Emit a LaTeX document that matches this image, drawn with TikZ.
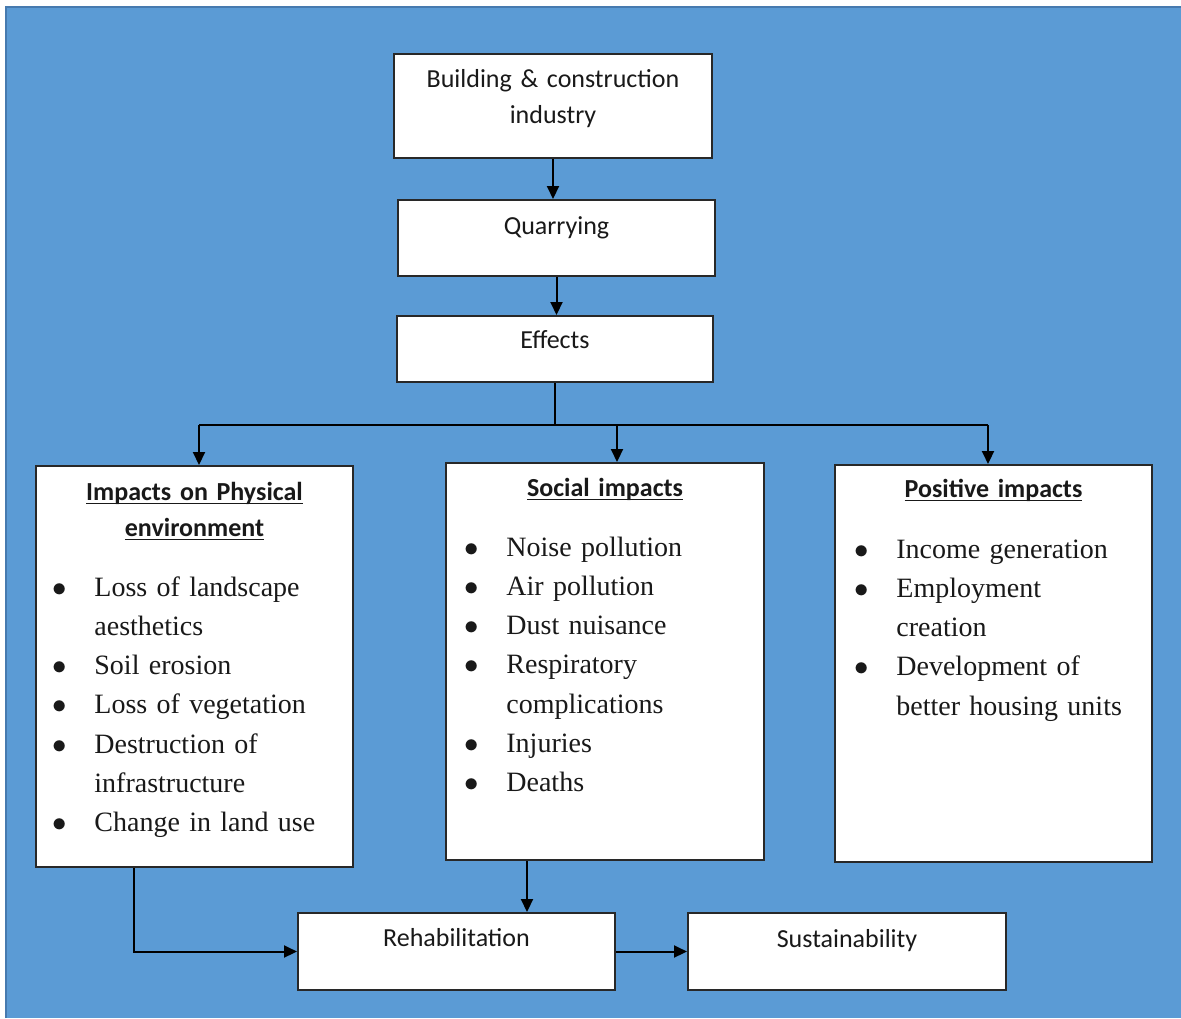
\documentclass[tikz,border=0pt]{standalone}
\usepackage{fontspec}
\setmainfont{Liberation Serif}
\newfontfamily\calibri{Carlito}
\usetikzlibrary{positioning,arrows.meta}

\definecolor{bgblue}{RGB}{91,155,213}
\definecolor{bgedge}{RGB}{70,122,175}
\definecolor{boxline}{RGB}{40,40,40}

% bullet hanging left of the item text
\newcommand{\bul}{\leavevmode\llap{\makebox[0pt]{$\bullet$}\hspace{17.5pt}}}
% underline sitting just under the baseline
\newsavebox\hdbox
\newcommand{\undl}[1]{\leavevmode\sbox\hdbox{#1}\rlap{\rule[-2.2pt]{\wd\hdbox}{0.75pt}}\usebox\hdbox}

\begin{document}
\begin{tikzpicture}[x=0.5pt, y=-0.5pt,
    box/.style={draw=boxline, line width=1pt, fill=white, minimum width=159pt, inner sep=0pt},
    lbl/.style={font=\calibri\fontsize{13}{18}\selectfont, text=black!90, text width=150pt, align=center, inner sep=0pt, anchor=base},
    head/.style={lbl, font=\calibri\bfseries\fontsize{13}{18}\selectfont},
    items/.style={font=\fontsize{14}{19.65}\selectfont, text=black!90, text width=125pt, align=left, inner sep=0pt, anchor=base west},
    arrow/.style={-{Triangle[length=6.5pt,width=6pt]}, line width=1pt},
    link/.style={line width=1pt}
]
\useasboundingbox (0,0) rectangle (1181,1018);
\fill[bgblue] (6,7) rectangle (1181,1018);
\draw[bgedge, line width=0.8pt] (6,1018) -- (6,7) -- (1181,7);

% chain at the top
\node[box, minimum height=52pt] (industry) at (553,106) {};
\node[lbl] (industrytxt) at ([yshift=-17pt]industry.north) {Building \& construction\\industry};
\node[box, minimum width=158.5pt, minimum height=38pt] (quarry) at (556.5,238) {};
\node[lbl] (quarrytxt) at ([yshift=-17.5pt]quarry.north) {Quarrying};
\node[box, minimum width=158pt, minimum height=33pt] (effects) at (555,349) {};
\node[lbl] (effectstxt) at ([yshift=-16.5pt]effects.north) {Effects};

% three impact boxes
\node[box, minimum width=158.5pt, minimum height=200.5pt] (physical) at (194.5,666.5) {};
\node[head] (physhead) at ([yshift=-17.5pt]physical.north) {\undl{Impacts on Physical}\\\undl{environment}};
\node[items] (physlist) at ([xshift=29.5pt, yshift=-65.5pt]physical.north west) {%
  \bul Loss of landscape\\aesthetics\\
  \bul Soil erosion\\
  \bul Loss of vegetation\\
  \bul Destruction of\\infrastructure\\
  \bul Change in land use};

\node[box, minimum height=198.5pt] (social) at (605,661.5) {};
\node[head] (sochead) at ([yshift=-17pt]social.north) {\undl{Social impacts}};
\node[items] (soclist) at ([xshift=30.5pt, yshift=-47pt]social.north west) {%
  \bul Noise pollution\\
  \bul Air pollution\\
  \bul Dust nuisance\\
  \bul Respiratory\\complications\\
  \bul Injuries\\
  \bul Deaths};

\node[box, minimum width=158.5pt, minimum height=198.5pt] (positive) at (993.5,663.5) {};
\node[head] (poshead) at ([yshift=-16.5pt]positive.north) {\undl{Positive impacts}};
\node[items] (poslist) at ([xshift=31pt, yshift=-47pt]positive.north west) {%
  \bul Income generation\\
  \bul Employment\\creation\\
  \bul Development of\\better housing units};

% bottom row
\node[box, minimum width=158.5pt, minimum height=38.5pt] (rehab) at (456.5,951.5) {};
\node[lbl] (rehabtxt) at ([yshift=-17pt]rehab.north) {Rehabilitation};
\node[box, minimum height=38.5pt] (sustain) at (847,951.5) {};
\node[lbl] (sustaintxt) at ([yshift=-17.5pt]sustain.north) {Sustainability};

% connectors
\draw[arrow] (industry.south) -- (industry.south |- quarry.north);
\draw[arrow] (quarry.south) -- (quarry.south |- effects.north);
\coordinate (forkL) at (199,425);
\coordinate (forkM) at (617,425);
\coordinate (forkR) at (988,425);
\draw[link] (effects.south) -- (effects.south |- forkL);
\draw[link] (forkL) -- (forkR);
\draw[arrow] (forkL) -- (forkL |- physical.north);
\draw[arrow] (forkM) -- (forkM |- social.north);
\draw[arrow] (forkR) -- (forkR |- positive.north);
\coordinate (physout) at ([xshift=49.5pt]physical.south west);
\draw[arrow] (physout) |- (rehab.west);
\coordinate (socout) at ([xshift=41pt]social.south west);
\draw[arrow] (socout) -- (socout |- rehab.north);
\draw[arrow] (rehab.east) -- (sustain.west);
\end{tikzpicture}
\end{document}
